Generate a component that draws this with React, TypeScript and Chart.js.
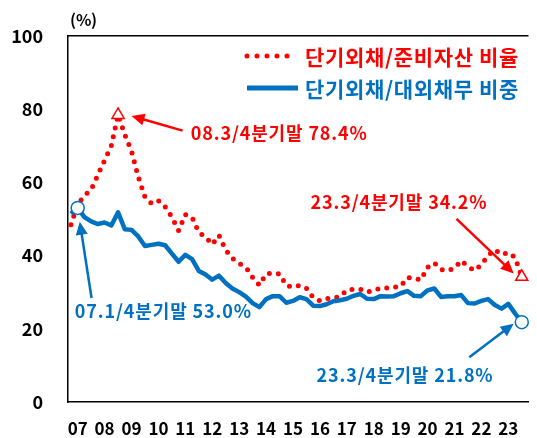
import React, { useEffect, useRef } from 'react';
import { Chart, registerables } from 'chart.js';

Chart.register(...registerables);

// Quarterly data, 06.4/4 .. 23.3/4 (index 0 .. 67)
const yearLabels = ['07', '08', '09', '10', '11', '12', '13', '14', '15', '16', '17', '18', '19', '20', '21', '22', '23'];
const yTicks = [0, 20, 40, 60, 80, 100];

// 단기외채/준비자산 비율 (%)
const reserveRatio = [
  48.4, 54.0, 56.3, 58.0, 62.0, 66.0, 70.0, 78.4,
  73.0, 68.5, 61.5, 56.0, 54.2, 55.0, 53.3, 50.5,
  46.8, 51.2, 50.4, 46.3, 45.1, 43.0, 45.5, 41.5,
  39.2, 37.8, 36.8, 34.0, 31.9, 35.0, 35.2, 35.0,
  31.8, 31.4, 31.8, 31.0, 28.5, 27.6, 28.2, 28.4,
  28.8, 30.6, 30.8, 30.8, 30.0, 30.5, 31.1, 31.1,
  31.3, 31.6, 34.0, 33.8, 33.3, 36.8, 38.0, 36.2,
  35.9, 36.5, 38.6, 37.0, 35.9, 37.5, 40.0, 41.6,
  40.3, 40.8, 39.5, 34.2,
];

// 단기외채/대외채무 비중 (%)
const debtShare = [
  51.4, 53.0, 50.5, 49.3, 48.6, 49.0, 48.2, 51.8,
  47.2, 47.0, 45.2, 42.6, 42.9, 43.2, 42.8, 40.5,
  38.3, 40.2, 39.0, 35.8, 34.8, 33.4, 34.5, 32.5,
  31.0, 30.0, 28.8, 27.0, 25.9, 28.1, 28.9, 28.9,
  27.1, 27.6, 28.6, 28.1, 26.3, 26.2, 26.7, 27.5,
  27.8, 28.2, 29.0, 29.5, 28.2, 28.1, 28.9, 28.8,
  28.9, 29.7, 30.3, 29.0, 28.9, 30.5, 31.0, 28.7,
  28.9, 28.9, 29.2, 27.0, 26.9, 27.6, 28.1, 26.5,
  25.5, 26.8, 24.2, 21.8,
];

const redMarkerIdx = [7, 67];
const blueMarkerIdx = [1, 67];
const firstYearIndex = 1; // 07.1/4 is index 1

const legendLabels = ['단기외채/준비자산 비율', '단기외채/대외채무 비중'];
const annotationTexts = ['08.3/4분기말 78.4%', '23.3/4분기말 34.2%', '07.1/4분기말 53.0%', '23.3/4분기말 21.8%'];

const RED = '#FF0000';
const BLUE = '#0070C0';
const FONT = '"Noto Sans CJK KR", "Noto Sans", sans-serif';

// annotation layout in data coordinates
const annotationLayout = [
  { text: 0, color: RED, x: 17.8, y: 73.5, tail: [16.6, 74.1], tip: [9.0, 78.1] },
  { text: 1, color: RED, x: 35.6, y: 54.6, tail: [57.3, 50.0], tip: [65.8, 35.1] },
  { text: 2, color: BLUE, x: 0.58, y: 24.9, tail: [3.06, 28.4], tip: [1.31, 49.2] },
  { text: 3, color: BLUE, x: 36.5, y: 7.3, tail: [59.2, 12.2], tip: [65.8, 21.4] },
];

function fitText(ctx: any, text: string, x: number, y: number, width: number) {
  ctx.letterSpacing = '0px';
  const w = ctx.measureText(text).width;
  const ls = (width - w) / text.length;
  ctx.letterSpacing = `${ls.toFixed(2)}px`;
  ctx.fillText(text, x, y);
  ctx.letterSpacing = '0px';
}

function drawArrow(ctx: CanvasRenderingContext2D, x1: number, y1: number, x2: number, y2: number, color: string) {
  const head = 13;
  const hw = 6;
  const dx = x2 - x1;
  const dy = y2 - y1;
  const len = Math.hypot(dx, dy);
  const ux = dx / len;
  const uy = dy / len;
  const bx = x2 - ux * head;
  const by = y2 - uy * head;
  ctx.save();
  ctx.strokeStyle = color;
  ctx.fillStyle = color;
  ctx.lineWidth = 2.5;
  ctx.beginPath();
  ctx.moveTo(x1, y1);
  ctx.lineTo(bx + ux * 2, by + uy * 2);
  ctx.stroke();
  ctx.beginPath();
  ctx.moveTo(x2, y2);
  ctx.lineTo(bx - uy * hw, by + ux * hw);
  ctx.lineTo(bx + uy * hw, by - ux * hw);
  ctx.closePath();
  ctx.fill();
  ctx.restore();
}

const overlayPlugin = {
  id: 'overlay',
  afterDraw(chart: any) {
    const { ctx, chartArea, scales } = chart;
    const xs = scales.x;
    const ys = scales.y;
    ctx.save();
    // top frame line
    ctx.strokeStyle = '#000';
    ctx.lineWidth = 1.5;
    ctx.beginPath();
    ctx.moveTo(chartArea.left, chartArea.top);
    ctx.lineTo(chartArea.right, chartArea.top);
    ctx.stroke();

    // (%) unit
    ctx.fillStyle = '#000';
    ctx.font = `bold 16px ${FONT}`;
    ctx.textAlign = 'left';
    ctx.textBaseline = 'middle';
    fitText(ctx, '(%)', chartArea.left + 2, 20, 27);

    // legend
    const lx1 = 247;
    ctx.lineCap = 'round';
    ctx.strokeStyle = RED;
    ctx.lineWidth = 5;
    ctx.setLineDash([0, 10]);
    ctx.beginPath();
    ctx.moveTo(lx1, 56);
    ctx.lineTo(293, 56);
    ctx.stroke();
    ctx.setLineDash([]);
    ctx.strokeStyle = BLUE;
    ctx.lineCap = 'butt';
    ctx.beginPath();
    ctx.moveTo(lx1, 88);
    ctx.lineTo(298, 88);
    ctx.stroke();
    ctx.font = `bold 21px ${FONT}`;
    ctx.fillStyle = RED;
    fitText(ctx, legendLabels[0], 305, 57, 214);
    ctx.fillStyle = BLUE;
    fitText(ctx, legendLabels[1], 305, 89, 214);

    // annotations
    ctx.font = `bold 18px ${FONT}`;
    for (const a of annotationLayout) {
      ctx.fillStyle = a.color;
      fitText(ctx, annotationTexts[a.text], xs.getPixelForValue(a.x), ys.getPixelForValue(a.y), 177);
      drawArrow(
        ctx,
        xs.getPixelForValue(a.tail[0]), ys.getPixelForValue(a.tail[1]),
        xs.getPixelForValue(a.tip[0]), ys.getPixelForValue(a.tip[1]),
        a.color,
      );
    }
    ctx.restore();
  },
};

export default function App() {
  const ref = useRef<HTMLCanvasElement | null>(null);

  useEffect(() => {
    const canvas = ref.current;
    if (!canvas) return;
    const redPts = reserveRatio.map((v, i) => ({ x: i, y: v }));
    const bluePts = debtShare.map((v, i) => ({ x: i, y: v }));
    const redMarks = redMarkerIdx.map((i) => ({ x: i, y: reserveRatio[i] }));
    const blueMarks = blueMarkerIdx.map((i) => ({ x: i, y: debtShare[i] }));

    const chart = new Chart(canvas, {
      type: 'line',
      data: {
        datasets: [
          {
            label: 'red markers',
            data: redMarks,
            showLine: false,
            pointStyle: 'triangle',
            pointRadius: 7,
            pointBackgroundColor: '#fff',
            pointBorderColor: RED,
            pointBorderWidth: 1.5,
            clip: false as any,
          },
          {
            label: 'blue markers',
            data: blueMarks,
            showLine: false,
            pointStyle: 'circle',
            pointRadius: 6.5,
            pointBackgroundColor: '#fff',
            pointBorderColor: BLUE,
            pointBorderWidth: 1.5,
            clip: false as any,
          },
          {
            label: legendLabels[1],
            data: bluePts,
            borderColor: BLUE,
            borderWidth: 4.5,
            borderJoinStyle: 'round',
            pointRadius: 0,
            tension: 0,
          },
          {
            label: legendLabels[0],
            data: redPts,
            borderColor: RED,
            borderWidth: 5,
            borderDash: [0, 9],
            borderCapStyle: 'round',
            pointRadius: 0,
            tension: 0,
          },
        ],
      },
      options: {
        animation: false,
        responsive: false,
        devicePixelRatio: 1,
        layout: { padding: { top: 32, right: 0, left: 0, bottom: 0 } },
        plugins: { legend: { display: false }, tooltip: { enabled: false } },
        scales: {
          x: {
            type: 'linear',
            min: -0.44,
            max: 68,
            grid: { display: false, drawTicks: false },
            border: { display: true, color: '#000', width: 1.5 },
            afterBuildTicks: (scale: any) => {
              scale.ticks = yearLabels.map((_, k) => ({ value: firstYearIndex + k * 4 }));
            },
            afterFit: (scale: any) => { scale.height = 36; },
            ticks: {
              autoSkip: false,
              maxRotation: 0,
              padding: 16,
              color: '#000',
              font: { family: FONT, size: 17, weight: 'bold' },
              callback: (v: any) => yearLabels[Math.round((Number(v) - firstYearIndex) / 4)] ?? '',
            },
          },
          y: {
            min: 0,
            max: 100,
            grid: { display: false, drawTicks: false },
            border: { display: true, color: '#000', width: 1.5 },
            afterBuildTicks: (scale: any) => {
              scale.ticks = yTicks.map((v) => ({ value: v }));
            },
            afterFit: (scale: any) => { scale.width = 68; },
            ticks: {
              padding: 25,
              color: '#000',
              font: { family: FONT, size: 18, weight: 'bold' },
            },
          },
        },
      },
      plugins: [overlayPlugin],
    } as any);
    return () => chart.destroy();
  }, []);

  return (
    <div style={{ position: 'absolute', left: 0, top: 0, width: 537, height: 438, background: '#fff' }}>
      <canvas ref={ref} width={537} height={438} style={{ display: 'block', width: 537, height: 438 }} />
    </div>
  );
}
